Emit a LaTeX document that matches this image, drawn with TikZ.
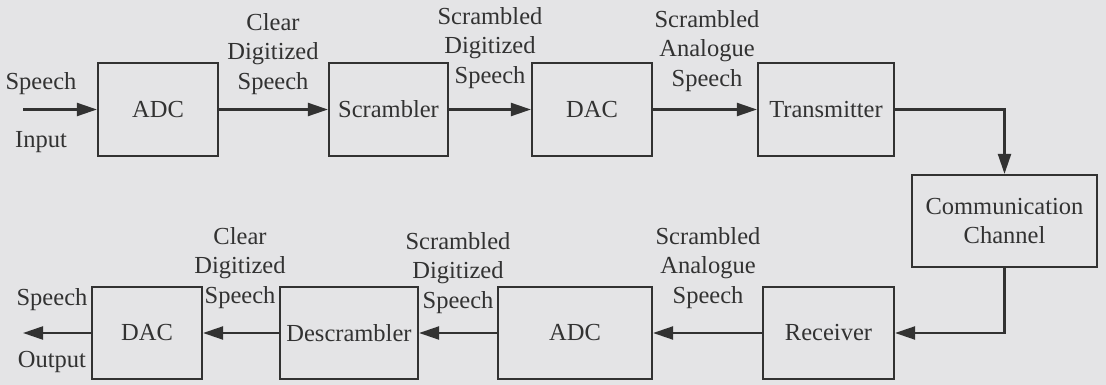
\documentclass[tikz,border=0pt]{standalone}
\usepackage{fontspec}
\setmainfont{Liberation Serif}
\usetikzlibrary{arrows.meta}
\definecolor{bg}{RGB}{228,228,230}
\definecolor{ink}{RGB}{50,50,50}
\begin{document}
\begin{tikzpicture}[x=1pt,y=-1pt,
  every node/.style={text=ink,font=\fontsize{24.5}{29.5}\selectfont},
  blk/.style={draw=ink,line width=2.2pt,minimum height=93pt,inner sep=0pt},
  lbl/.style={align=center,inner sep=0pt},
  conn/.style={draw=ink,line width=2.2pt,-{Triangle[length=20pt,width=13pt]}}]
\fill[bg] (0,0) rectangle (1106,385);
\useasboundingbox (0,0) rectangle (1106,385);
% top row
\node[blk,minimum width=120pt] (adcA) at (158,109.5) {ADC};
\node[blk,minimum width=119pt] (scr) at (388.5,109.5) {Scrambler};
\node[blk,minimum width=120pt] (dacA) at (592,109.5) {DAC};
\node[blk,minimum width=136pt] (tx) at (826,109.5) {Transmitter};
\node[blk,minimum width=185pt,minimum height=92pt,align=center] (ch) at (1004.5,221) {Communication\\Channel};
% bottom row
\node[blk,minimum width=131pt,minimum height=92pt] (rx) at (828.5,333) {Receiver};
\node[blk,minimum width=154pt,minimum height=92pt] (adcB) at (575,333) {ADC};
\node[blk,minimum width=138pt,minimum height=92pt] (des) at (349,333) {Descrambler};
\node[blk,minimum width=110pt,minimum height=92pt] (dacB) at (147,333) {DAC};
% ends
\coordinate (in) at (23,109.5);
\coordinate (out) at (23,333);
% connectors
\draw[conn] (in) -- (adcA);
\draw[conn] (adcA) -- (scr);
\draw[conn] (scr) -- (dacA);
\draw[conn] (dacA) -- (tx);
\draw[conn] (tx.east) -| (ch.north);
\draw[conn] (ch.south) |- (rx.east);
\draw[conn] (rx) -- (adcB);
\draw[conn] (adcB) -- (des);
\draw[conn] (des) -- (dacB);
\draw[conn] (dacB) -- (out);
% labels
\node[lbl] (sin) at (41,84) {Speech};
\node[lbl] (iin) at (41,142) {Input};
\node[lbl] (sout) at (52,300) {Speech};
\node[lbl] (oout) at (52,362) {Output};
\node[lbl] (l1) at (273,54) {Clear\\Digitized\\Speech};
\node[lbl] (l2) at (490,48) {Scrambled\\Digitized\\Speech};
\node[lbl] (l3) at (707,51) {Scrambled\\Analogue\\Speech};
\node[lbl] (l4) at (240,268) {Clear\\Digitized\\Speech};
\node[lbl] (l5) at (458,273) {Scrambled\\Digitized\\Speech};
\node[lbl] (l6) at (708,268) {Scrambled\\Analogue\\Speech};
\end{tikzpicture}
\end{document}
